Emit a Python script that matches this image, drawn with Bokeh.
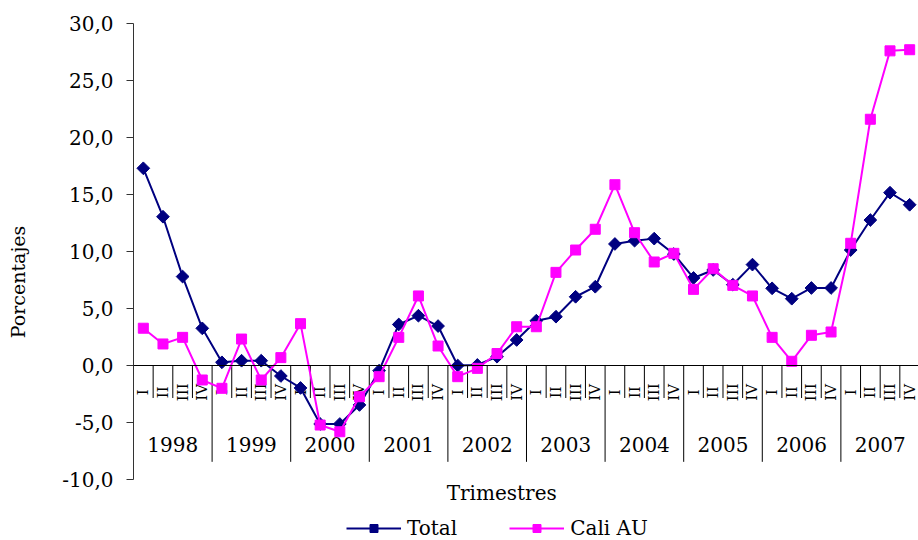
import math
from bokeh.plotting import figure
from bokeh.models import (ColumnDataSource, Range1d, LinearAxis, FixedTicker,
                          CustomJSTickFormatter, Legend, LegendItem, Span)
from bokeh.embed import file_html
from bokeh.resources import INLINE
from bokeh.core.properties import value

# ---------------- data ----------------
years = ["1998", "1999", "2000", "2001", "2002", "2003", "2004", "2005", "2006", "2007"]
quarters = ["I", "II", "III", "IV"]
total = [17.3, 13.05, 7.8, 3.26,
         0.28, 0.42, 0.42, -0.92,
         -1.97, -5.13, -5.13, -3.46,
         -0.45, 3.6, 4.37, 3.46,
         0.0, 0.05, 0.77, 2.24,
         3.93, 4.28, 6.03, 6.91,
         10.66, 10.95, 11.13, 9.78,
         7.68, 8.38, 7.09, 8.85,
         6.77, 5.86, 6.8, 6.8,
         10.13, 12.76, 15.16, 14.1]
cali = [3.27, 1.89, 2.47, -1.27,
        -2.0, 2.32, -1.27, 0.69,
        3.67, -5.22, -5.81, -2.74,
        -0.98, 2.47, 6.10, 1.71,
        -0.98, -0.25, 1.05, 3.4,
        3.4, 8.17, 10.13, 11.95,
        15.86, 11.65, 9.08, 9.84,
        6.68, 8.49, 7.03, 6.10,
        2.47, 0.37, 2.65, 2.94,
        10.72, 21.6, 27.6, 27.7]
y_ticks = [-10, -5, 0, 5, 10, 15, 20, 25, 30]
x_title = "Trimestres"
y_title = "Porcentajes"

FONT = "DejaVu Serif"
nq = len(quarters)
n = len(years) * nq
xs = [i + 0.5 for i in range(n)]
qlabels = [quarters[i % nq] for i in range(n)]

# frame: 517 px tall, 11.4 px per unit -> extra room below -10 for title and legend
p = figure(width=918, height=540, x_range=Range1d(0, 39.95), y_range=Range1d(-15.35, 30),
           output_backend="svg", toolbar_location=None,
           x_axis_type=None, y_axis_type=None,
           min_border_left=133, min_border_right=0, min_border_top=23, min_border_bottom=0)
p.outline_line_color = None
p.grid.visible = False
p.background_fill_color = "white"

# y axis
yaxis = LinearAxis(ticker=FixedTicker(ticks=y_ticks), bounds=(min(y_ticks), max(y_ticks)),
                   formatter=CustomJSTickFormatter(code="return tick.toFixed(1).replace('.', ',');"),
                   axis_label=y_title)
yaxis.axis_line_color = "#333333"
yaxis.major_tick_line_color = "#333333"
yaxis.major_tick_in = 0
yaxis.major_tick_out = 7
yaxis.minor_tick_line_color = None
yaxis.major_label_standoff = 13
yaxis.major_label_text_font = FONT
yaxis.major_label_text_font_size = "20px"
yaxis.major_label_text_color = "black"
yaxis.axis_label_text_font = FONT
yaxis.axis_label_text_font_size = "19px"
yaxis.axis_label_text_font_style = "normal"
yaxis.axis_label_text_color = "black"
yaxis.axis_label_standoff = 30
p.add_layout(yaxis, "left")

# zero line
p.add_layout(Span(location=0, dimension="width", line_color="black", line_width=1))

# category axis decorations
q_bounds = [k for k in range(1, n) if k % nq != 0]
y_bounds = [k * nq for k in range(1, len(years) + 1)]
p.segment(x0=q_bounds, y0=[0] * len(q_bounds), x1=q_bounds, y1=[-2.85] * len(q_bounds),
          line_color="black", line_width=1)
p.segment(x0=y_bounds, y0=[0] * len(y_bounds), x1=y_bounds, y1=[-8.45] * len(y_bounds),
          line_color="black", line_width=1)
p.text(x=xs, y=[-2.35] * n, text=qlabels, angle=math.pi / 2,
       text_align="center", text_baseline="alphabetic",
       text_font=value(FONT), text_font_size="15px", text_color="black")
yc = [k * nq + nq / 2 for k in range(len(years))]
p.text(x=yc, y=[-6.97] * len(years), text=years, text_align="center", text_baseline="middle",
       text_font=value(FONT), text_font_size="20px", text_color="black")
p.text(x=[18.74], y=[-11.18], text=[x_title], text_align="center", text_baseline="middle",
       text_font=value(FONT), text_font_size="20px", text_color="black")

# series
src = ColumnDataSource(dict(x=xs, total=total, cali=cali))
l1 = p.line("x", "total", source=src, line_color="#000080", line_width=2)
s1 = p.scatter("x", "total", source=src, marker="square", angle=math.pi / 4, size=9,
               fill_color="#000080", line_color="#000080")
l2 = p.line("x", "cali", source=src, line_color="#FF00FF", line_width=2)
s2 = p.scatter("x", "cali", source=src, marker="square", size=10,
               fill_color="#FF00FF", line_color="#FF00FF")

legend = Legend(items=[LegendItem(label="Total", renderers=[l1, s1]),
                       LegendItem(label="Cali AU", renderers=[l2, s2])],
                orientation="horizontal", location=(213, 0),
                border_line_color=None, background_fill_alpha=0,
                label_text_font=FONT, label_text_font_size="20px", label_text_color="black",
                glyph_width=55, glyph_height=20, spacing=52, padding=2, margin=0,
                label_standoff=6)
p.add_layout(legend, "center")

open("out.html", "w").write(file_html(p, INLINE))
